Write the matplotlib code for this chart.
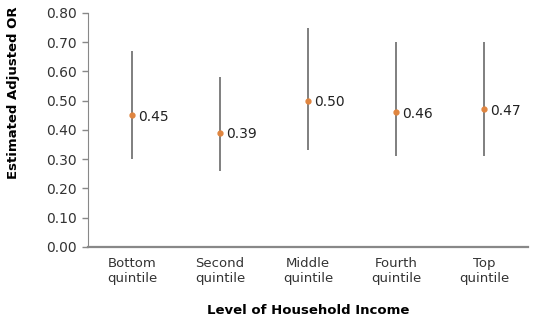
import matplotlib
matplotlib.use("Agg")
import matplotlib.pyplot as plt

categories = ["Bottom\nquintile", "Second\nquintile", "Middle\nquintile",
              "Fourth\nquintile", "Top\nquintile"]
odds_ratio = [0.45, 0.39, 0.50, 0.46, 0.47]
ci_low = [0.30, 0.26, 0.33, 0.31, 0.31]
ci_high = [0.67, 0.58, 0.75, 0.70, 0.70]

fig = plt.figure(figsize=(5.34, 3.24), dpi=100)
ax = fig.add_axes([0.165, 0.238, 0.824, 0.722])

x = list(range(len(categories)))
ax.vlines(x, ci_low, ci_high, color="#7f7f7f", linewidth=1.4)
ax.plot(x, odds_ratio, "o", color="#e0853f", markersize=3.5, zorder=3)
for xi, v in zip(x, odds_ratio):
    ax.annotate(f"{v:.2f}", (xi, v), xytext=(4, -1), textcoords="offset points",
                va="center", ha="left", fontsize=10, color="#222222")

ax.set_xlim(-0.5, len(categories) - 0.5)
ax.set_ylim(0, 0.8)
ax.set_yticks([i / 10 for i in range(9)])
ax.set_yticklabels([f"{i / 10:.2f}" for i in range(9)])
ax.set_xticks(x)
ax.set_xticklabels(categories)
ax.tick_params(axis="x", length=0, pad=7, labelsize=9.5, colors="#333333")
ax.tick_params(axis="y", length=4, width=1, color="#888888", labelsize=10,
               labelcolor="#333333", pad=4)

for s in ("top", "right"):
    ax.spines[s].set_visible(False)
ax.spines["left"].set_color("#888888")
ax.spines["bottom"].set_color("#888888")
ax.spines["bottom"].set_linewidth(1.6)

ax.set_xlabel("Level of Household Income", fontsize=9.5, fontweight="bold",
              labelpad=14)
ax.set_ylabel("Estimated Adjusted OR", fontsize=9.5, fontweight="bold")
ax.yaxis.set_label_coords(-0.155, 0.66)

fig.savefig("out.png", dpi=100)
